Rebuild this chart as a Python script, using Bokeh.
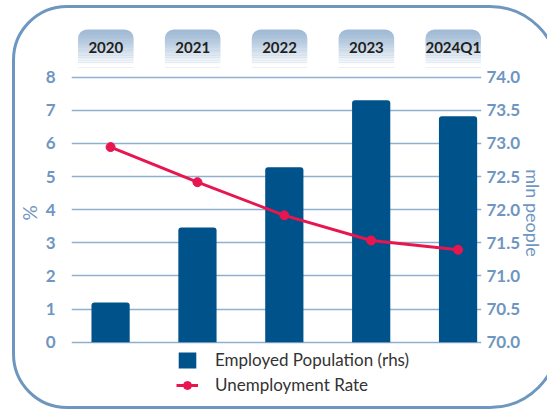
from bokeh.plotting import figure
from bokeh.models import (Range1d, LinearAxis, FixedTicker, Legend, LegendItem,
                          PrintfTickFormatter, InlineStyleSheet)
from bokeh.embed import file_html
from bokeh.resources import INLINE
from bokeh.core.properties import value

# ---- data ----
periods = ["2020", "2021", "2022", "2023", "2024Q1"]
employed = [70.60, 71.73, 72.64, 73.65, 73.41]      # mln people (rhs)
unemployment = [5.89, 4.83, 3.83, 3.07, 2.79]       # %
left_ticks = [0, 1, 2, 3, 4, 5, 6, 7, 8]
right_ticks = [70.0, 70.5, 71.0, 71.5, 72.0, 72.5, 73.0, 73.5, 74.0]

# ---- styles ----
BAR = "#00528A"
RED = "#E8164F"
AXIS_BLUE = "#6F96C1"
GRID = "#8FAFD0"
BOX_TOP = "#A0BAD5"
FONT = "Lato"

x = list(range(len(periods)))

y_lo, y_hi = -1.76, 9.56
p = figure(width=547, height=409, output_backend="svg", toolbar_location=None,
           x_range=Range1d(-0.45, 4.27), y_range=Range1d(y_lo, y_hi),
           x_axis_location=None, y_axis_location="left",
           min_border_left=71, min_border_right=10, min_border_top=25, min_border_bottom=9)
p.outline_line_color = None
p.background_fill_color = None
p.border_fill_color = "white"
p.xgrid.visible = False

p.extra_y_ranges = {"emp": Range1d(70 + y_lo / 2, 70 + y_hi / 2)}

# left axis
la = p.yaxis[0]
la.ticker = FixedTicker(ticks=left_ticks)
la.axis_line_color = None
la.major_tick_line_color = None
la.minor_tick_line_color = None
la.major_tick_out = 0
la.major_tick_in = 0
la.minor_tick_out = 0
la.major_label_standoff = 16
la.major_label_text_font = FONT
la.major_label_text_font_style = "bold"
la.major_label_text_font_size = "17px"
la.major_label_text_color = AXIS_BLUE
la.axis_label = "%"
la.axis_label_text_font = FONT
la.axis_label_text_font_style = "normal"
la.axis_label_text_font_size = "19px"
la.axis_label_text_color = AXIS_BLUE
la.axis_label_standoff = 2

p.ygrid.ticker = FixedTicker(ticks=left_ticks)
p.ygrid.grid_line_color = GRID
p.ygrid.grid_line_width = 1.4

# right axis
ra = LinearAxis(y_range_name="emp", ticker=FixedTicker(ticks=right_ticks),
                formatter=PrintfTickFormatter(format="%.1f"))
ra.axis_line_color = None
ra.major_tick_line_color = None
ra.minor_tick_line_color = None
ra.major_tick_out = 0
ra.major_tick_in = 0
ra.minor_tick_out = 0
ra.major_label_standoff = 5
ra.major_label_text_font = FONT
ra.major_label_text_font_style = "bold"
ra.major_label_text_font_size = "17px"
ra.major_label_text_color = AXIS_BLUE
ra.axis_label = "mln people"
ra.axis_label_text_font = FONT
ra.axis_label_text_font_style = "normal"
ra.axis_label_text_font_size = "18px"
ra.axis_label_text_color = AXIS_BLUE
ra.axis_label_standoff = -1
p.add_layout(ra, "right")

# category header boxes (gradient approximated with white overlays)
box_x = [xi - 0.055 for xi in x]
box_top, box_bot = 9.44, 8.30
p.quad(left=[b - 0.32 for b in box_x], right=[b + 0.32 for b in box_x],
       top=box_top, bottom=box_bot, fill_color=BOX_TOP, line_color=None,
       border_radius=(9, 9, 0, 0))
N = 16
h = (box_top - box_bot) / N
for i in range(N):
    a = min(1.0, ((i + 0.5) / N) ** 1.3 * 1.1)
    p.quad(left=[b - 0.33 for b in box_x], right=[b + 0.33 for b in box_x],
           top=box_top - i * h, bottom=box_top - (i + 1) * h - 0.001,
           fill_color="white", fill_alpha=a, line_color=None)
p.text(x=box_x, y=8.9, text=periods, text_align="center", text_baseline="middle",
       text_font=value(FONT), text_font_style="bold", text_font_size="15px",
       text_color="#231F20")

# bars (rhs)
bars = p.vbar(x=x, top=employed, bottom=70, width=0.44, fill_color=BAR, line_color=None,
              y_range_name="emp", border_radius=(3, 3, 0, 0))

# line (lhs)
ln = p.line(x, unemployment, line_color=RED, line_width=3)
dots = p.scatter(x, unemployment, size=9, fill_color=RED, line_color=RED)

legend = Legend(items=[LegendItem(label="Employed Population (rhs)", renderers=[bars]),
                       LegendItem(label="Unemployment Rate", renderers=[ln, dots])],
                location=(105, 5), orientation="vertical",
                glyph_width=22, glyph_height=20, label_standoff=17, spacing=4,
                padding=0, margin=0, border_line_color=None, background_fill_alpha=0,
                label_text_font=FONT, label_text_font_size="17px", label_text_color="#333333")
p.add_layout(legend)

# rounded frame around the whole chart (page decoration)
p.stylesheets = [InlineStyleSheet(css="""
:host { position: relative; overflow: hidden; }
:host::after {
  content: ""; position: absolute; left: 12px; top: 5px;
  width: 548px; height: 404px; box-sizing: border-box;
  border: 3px solid #6E97C0; border-radius: 55px 70px 70px 55px;
  pointer-events: none;
}
""")]

open("out.html", "w").write(file_html(p, INLINE))
